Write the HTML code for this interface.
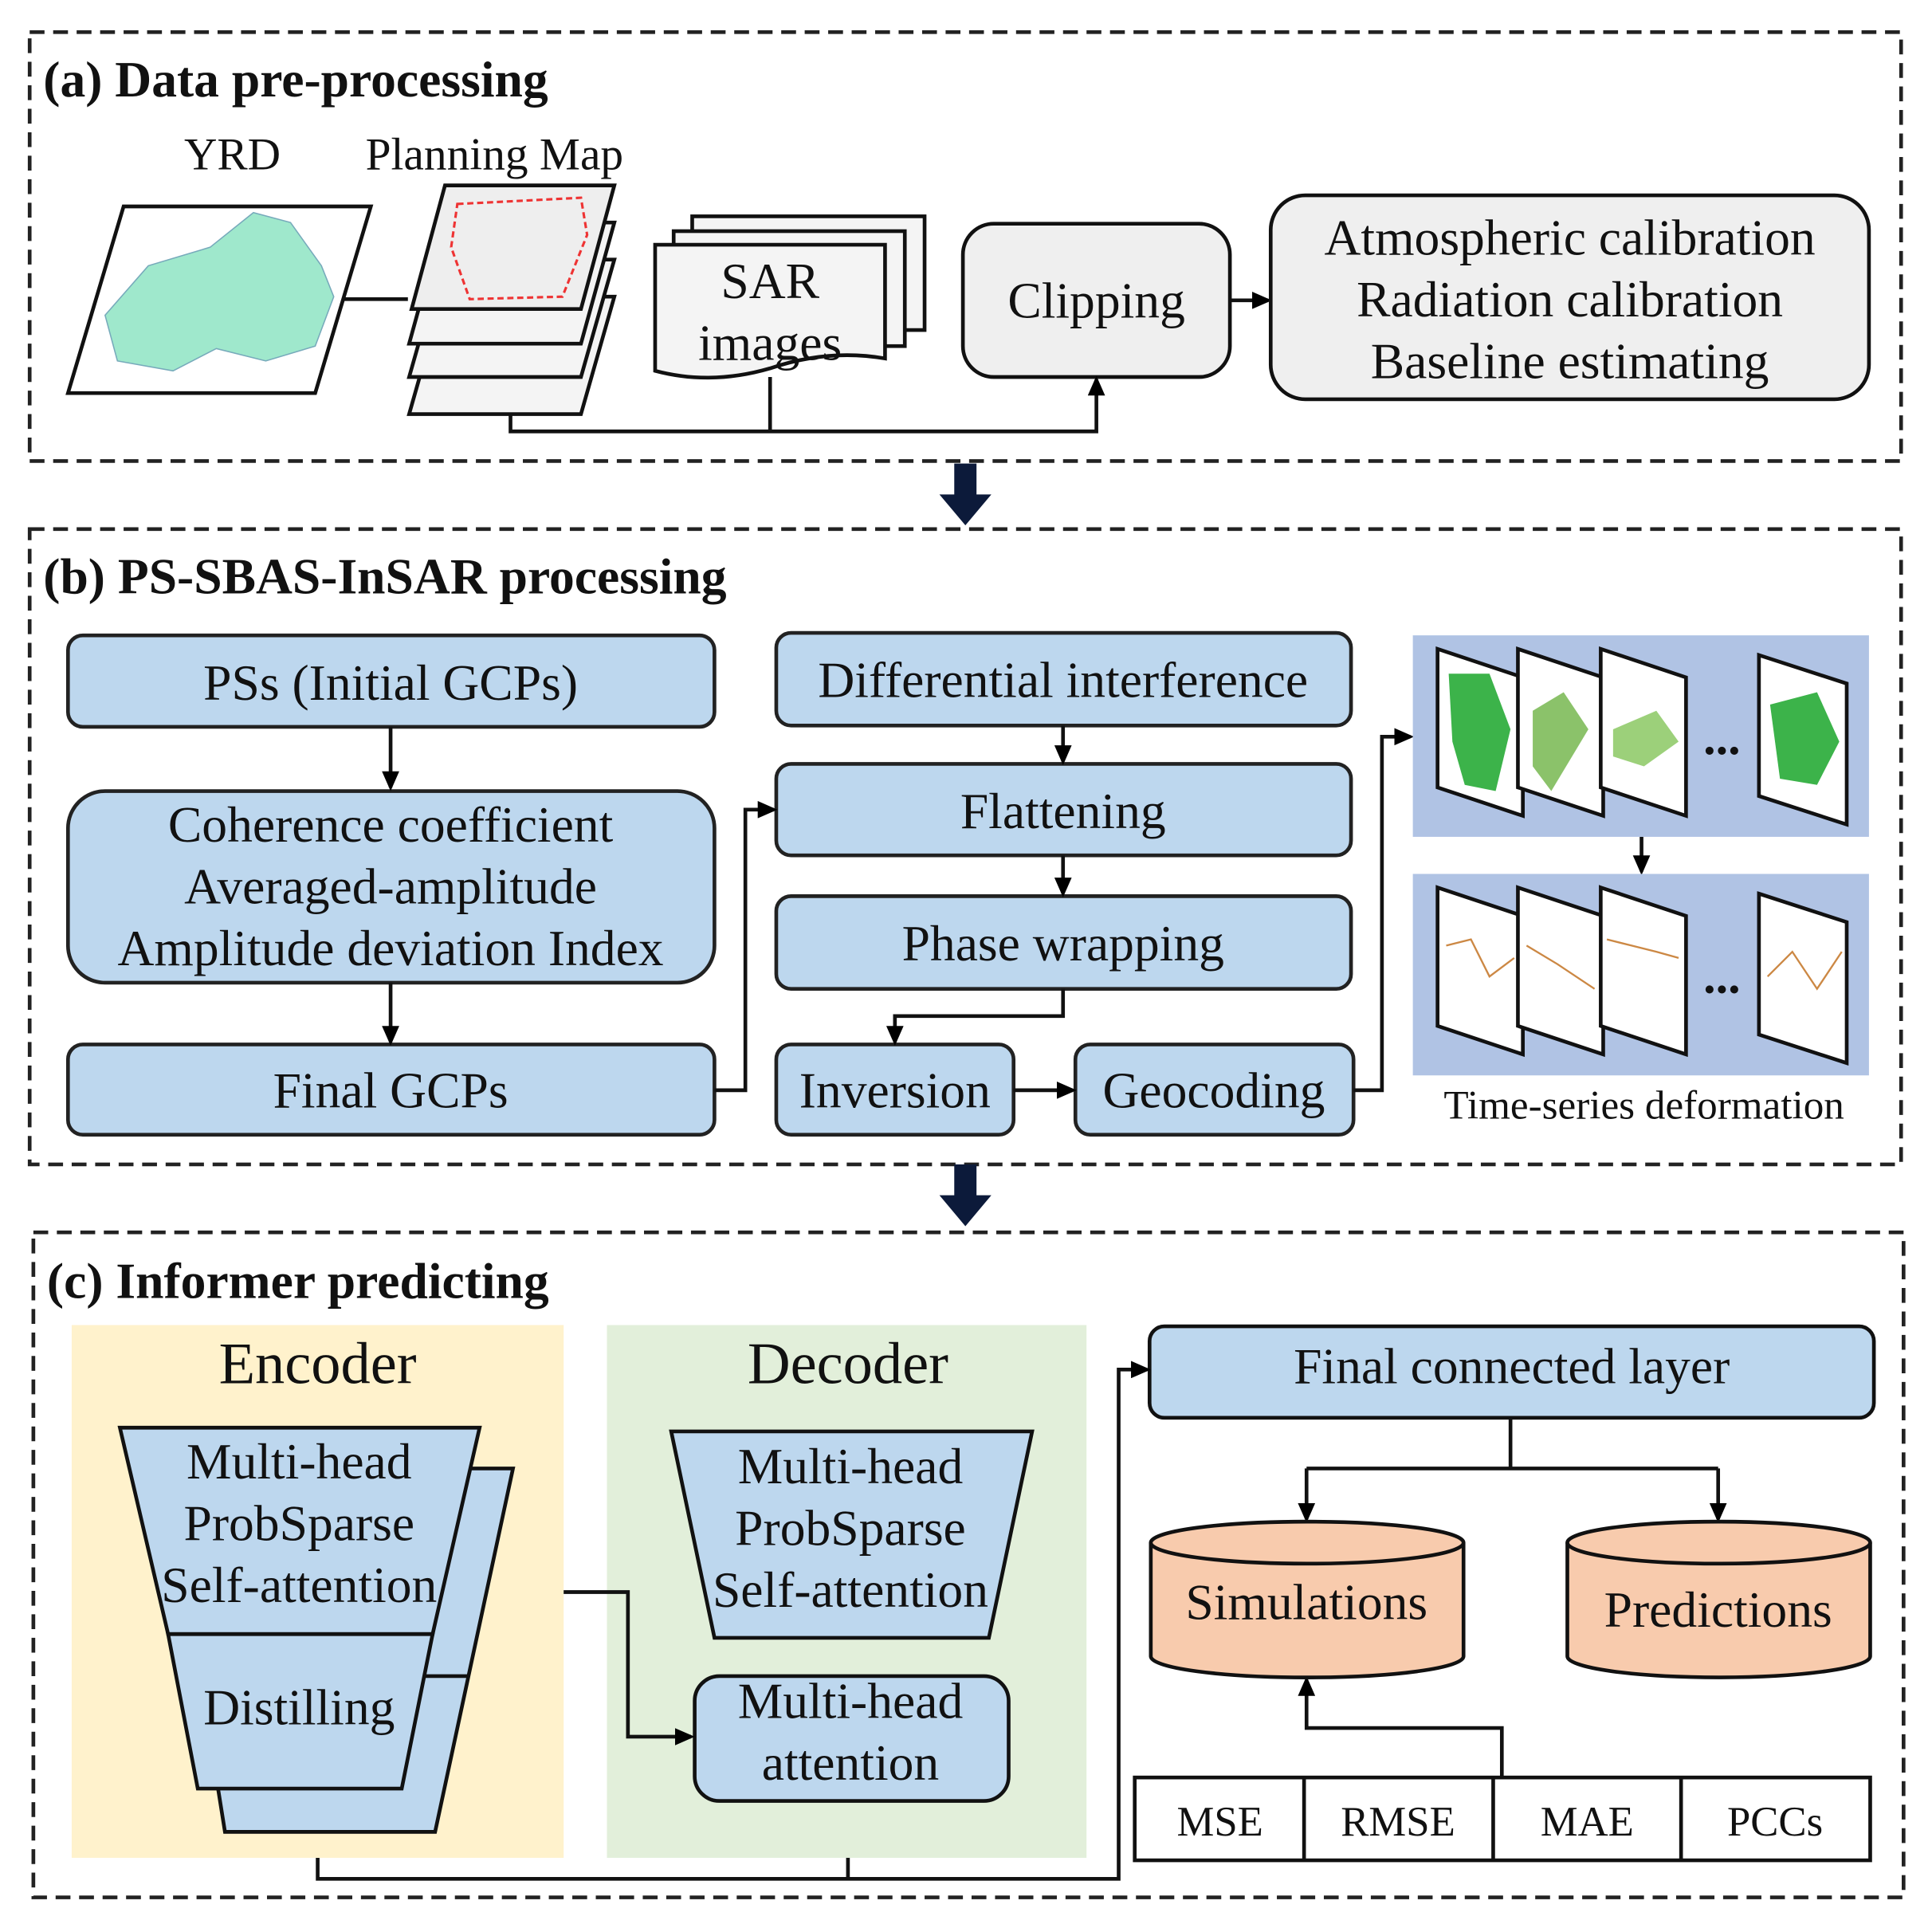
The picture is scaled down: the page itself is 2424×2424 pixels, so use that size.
<!DOCTYPE html>
<html><head><meta charset="utf-8"><style>
html,body{margin:0;padding:0;background:#fff}
svg{display:block}
text{font-family:"Liberation Serif",serif;fill:#111}
</style></head><body>
<svg width="2424" height="2424" viewBox="0 0 1563 1563" xmlns="http://www.w3.org/2000/svg">
<defs>
<marker id="ar" markerWidth="16" markerHeight="14" refX="13" refY="7" orient="auto" markerUnits="userSpaceOnUse" viewBox="0 0 16 14">
<path d="M0,0 L16,7 L0,14 z" fill="#000"/></marker>
</defs>
<rect width="1563" height="1563" fill="#fff"/>
<g fill="none" stroke="#222" stroke-width="3" stroke-dasharray="12,7">
<rect x="24" y="26" width="1514" height="347"/>
<rect x="24" y="428" width="1514" height="514"/>
<rect x="27" y="997" width="1513" height="538"/>
</g>
<g font-weight="bold" font-size="41">
<text x="35" y="78">(a) Data pre-processing</text>
<text x="35" y="480">(b) PS-SBAS-InSAR processing</text>
<text x="38" y="1050">(c) Informer predicting</text>
</g>
<g fill="#0c1a3a">
<rect x="772" y="375" width="18" height="28"/><path d="M760,400 L802,400 L781,425 z"/>
<rect x="772" y="942" width="18" height="28"/><path d="M760,967 L802,967 L781,992 z"/>
</g>
<!-- panel a -->
<text x="188" y="137" font-size="37" text-anchor="middle">YRD</text>
<text x="400" y="137" font-size="37" text-anchor="middle">Planning Map</text>
<polygon points="100,167 300,167 255,318 55,318" fill="#fff" stroke="#111" stroke-width="3"/>
<path d="M85,255 L120,215 L170,200 L205,172 L235,180 L260,215 L270,240 L255,280 L215,292 L175,282 L140,300 L95,292 z" fill="#9fe8cc" stroke="#7ab" stroke-width="1"/>
<line x1="277" y1="242" x2="330" y2="242" stroke="#111" stroke-width="3"/>
<g stroke="#111" stroke-width="3" fill="#f4f4f4">
<polygon points="358,240 497,240 470,335 331,335"/>
<polygon points="358,210 497,210 470,305 331,305"/>
<polygon points="358,180 497,180 470,278 331,278"/>
<polygon points="360,150 497,150 470,250 333,250" fill="#eee"/>
</g>
<path d="M370,165 L470,160 L475,190 L455,240 L380,242 L365,200 z" fill="none" stroke="#e33" stroke-width="2" stroke-dasharray="5,3"/>
<g stroke="#111" stroke-width="3" fill="#f4f4f4">
<rect x="560" y="175" width="188" height="92"/>
<rect x="545" y="187" width="187" height="93"/>
<path d="M530,198 L716,198 L716,290 Q670,282 623,298 Q575,312 530,300 z"/>
</g>
<text x="623" y="241" font-size="41" text-anchor="middle">SAR</text>
<text x="623" y="291" font-size="41" text-anchor="middle">images</text>
<rect x="779" y="181" width="216" height="124" rx="25" fill="#efefef" stroke="#111" stroke-width="3"/>
<text x="887" y="257" font-size="41" text-anchor="middle">Clipping</text>
<line x1="995" y1="243" x2="1026" y2="243" stroke="#111" stroke-width="3" marker-end="url(#ar)"/>
<rect x="1028" y="158" width="484" height="165" rx="28" fill="#efefef" stroke="#111" stroke-width="3"/>
<g font-size="41" text-anchor="middle">
<text x="1270" y="206">Atmospheric calibration</text>
<text x="1270" y="256">Radiation calibration</text>
<text x="1270" y="306">Baseline estimating</text>
</g>
<path d="M413,335 L413,349 L887,349 L887,307" fill="none" stroke="#111" stroke-width="3" marker-end="url(#ar)"/>
<line x1="623" y1="305" x2="623" y2="349" stroke="#111" stroke-width="3"/>
<!-- panel b -->
<g fill="#bdd7ee" stroke="#222" stroke-width="3">
<rect x="55" y="514" width="523" height="74" rx="12"/>
<rect x="55" y="640" width="523" height="155" rx="30"/>
<rect x="55" y="845" width="523" height="73" rx="12"/>
<rect x="628" y="512" width="465" height="75" rx="12"/>
<rect x="628" y="618" width="465" height="74" rx="12"/>
<rect x="628" y="725" width="465" height="75" rx="12"/>
<rect x="628" y="845" width="192" height="73" rx="12"/>
<rect x="870" y="845" width="225" height="73" rx="12"/>
</g>
<g font-size="41" text-anchor="middle">
<text x="316" y="566">PSs (Initial GCPs)</text>
<text x="316" y="681">Coherence coefficient</text>
<text x="316" y="731">Averaged-amplitude</text>
<text x="316" y="781">Amplitude deviation Index</text>
<text x="316" y="896">Final GCPs</text>
<text x="860" y="564">Differential interference</text>
<text x="860" y="670">Flattening</text>
<text x="860" y="777">Phase wrapping</text>
<text x="724" y="896">Inversion</text>
<text x="982" y="896">Geocoding</text>
</g>
<g fill="none" stroke="#111" stroke-width="3" marker-end="url(#ar)">
<line x1="316" y1="588" x2="316" y2="637"/>
<line x1="316" y1="795" x2="316" y2="843"/>
<path d="M578,882 L603,882 L603,655 L626,655"/>
<line x1="860" y1="587" x2="860" y2="616"/>
<line x1="860" y1="692" x2="860" y2="723"/>
<path d="M860,800 L860,822 L724,822 L724,843"/>
<line x1="820" y1="882" x2="868" y2="882"/>
<path d="M1095,882 L1118,882 L1118,596 L1141,596"/>
<line x1="1328" y1="677" x2="1328" y2="705"/>
</g>
<rect x="1143" y="514" width="369" height="163" fill="#b0c3e4"/>
<rect x="1143" y="707" width="369" height="163" fill="#b0c3e4"/>
<g stroke="#111" stroke-width="3" fill="#fff">
<polygon points="1163,525 1232,548 1232,660 1163,637"/>
<polygon points="1228,525 1297,548 1297,660 1228,637"/>
<polygon points="1295,525 1364,548 1364,660 1295,637"/>
<polygon points="1423,530 1494,553 1494,667 1423,644"/>
<polygon points="1163,718 1232,741 1232,853 1163,830"/>
<polygon points="1228,718 1297,741 1297,853 1228,830"/>
<polygon points="1295,718 1364,741 1364,853 1295,830"/>
<polygon points="1423,723 1494,746 1494,860 1423,837"/>
</g>
<g fill="#3cb34a">
<path d="M1172,545 L1205,545 L1222,590 L1210,640 L1185,635 L1175,600 z"/>
<path d="M1240,575 L1265,560 L1285,590 L1255,640 L1240,620 z" fill="#8bc26a"/>
<path d="M1305,590 L1340,575 L1358,600 L1330,620 L1305,612 z" fill="#9cd07a"/>
<path d="M1432,570 L1470,560 L1488,600 L1470,635 L1440,630 z"/>
</g>
<g stroke="#c84" stroke-width="1.5" fill="none">
<path d="M1170,765 L1190,760 L1205,790 L1225,775"/><path d="M1235,765 L1260,780 L1290,800"/>
<path d="M1300,760 L1320,765 L1340,770 L1358,775"/><path d="M1430,790 L1450,770 L1470,800 L1490,770"/>
</g>
<text x="1393" y="610" font-size="40" font-weight="bold" text-anchor="middle">...</text>
<text x="1393" y="803" font-size="40" font-weight="bold" text-anchor="middle">...</text>
<text x="1330" y="905" font-size="33" text-anchor="middle">Time-series deformation</text>
<!-- panel c -->
<rect x="58" y="1072" width="398" height="431" fill="#fff2cc"/>
<rect x="491" y="1072" width="388" height="431" fill="#e2efda"/>
<text x="257" y="1119" font-size="48" text-anchor="middle">Encoder</text>
<text x="686" y="1119" font-size="48" text-anchor="middle">Decoder</text>
<g fill="#bdd7ee" stroke="#111" stroke-width="3">
<polygon points="135,1188 415,1188 352,1482 182,1482"/>
<line x1="340" y1="1356" x2="378" y2="1356"/>
<polygon points="97,1155 388,1155 350,1322 136,1322"/>
<polygon points="136,1322 350,1322 325,1447 160,1447"/>
<polygon points="543,1158 835,1158 800,1325 578,1325"/>
<rect x="562" y="1356" width="254" height="101" rx="20"/>
<rect x="930" y="1073" width="586" height="74" rx="12"/>
</g>
<g font-size="41" text-anchor="middle">
<text x="242" y="1196">Multi-head</text>
<text x="242" y="1246">ProbSparse</text>
<text x="242" y="1296">Self-attention</text>
<text x="242" y="1395">Distilling</text>
<text x="688" y="1200">Multi-head</text>
<text x="688" y="1250">ProbSparse</text>
<text x="688" y="1300">Self-attention</text>
<text x="688" y="1390">Multi-head</text>
<text x="688" y="1440">attention</text>
<text x="1223" y="1119">Final connected layer</text>
</g>
<g fill="none" stroke="#111" stroke-width="3">
<path d="M456,1288 L508,1288 L508,1405 L559,1405" marker-end="url(#ar)"/>
<path d="M257,1503 L257,1520 L905,1520 L905,1108 L928,1108" marker-end="url(#ar)"/>
<line x1="686" y1="1503" x2="686" y2="1520"/>
<path d="M1222,1147 L1222,1188 M1057,1188 L1390,1188"/>
<line x1="1057" y1="1188" x2="1057" y2="1229" marker-end="url(#ar)"/>
<line x1="1390" y1="1188" x2="1390" y2="1229" marker-end="url(#ar)"/>
<path d="M1215,1438 L1215,1398 L1057,1398 L1057,1359" marker-end="url(#ar)"/>
</g>
<g fill="#f8cbad" stroke="#111" stroke-width="3">
<path d="M931,1248 L931,1340 A126,17 0 0 0 1184,1340 L1184,1248"/>
<ellipse cx="1057.5" cy="1248" rx="126.5" ry="17"/>
<path d="M1268,1248 L1268,1340 A122.5,17 0 0 0 1513,1340 L1513,1248"/>
<ellipse cx="1390.5" cy="1248" rx="122.5" ry="17"/>
</g>
<text x="1057" y="1310" font-size="41" text-anchor="middle">Simulations</text>
<text x="1390" y="1316" font-size="41" text-anchor="middle">Predictions</text>
<g fill="#fff" stroke="#111" stroke-width="3">
<rect x="918" y="1438" width="595" height="67"/>
<line x1="1055" y1="1438" x2="1055" y2="1505"/>
<line x1="1208" y1="1438" x2="1208" y2="1505"/>
<line x1="1360" y1="1438" x2="1360" y2="1505"/>
</g>
<g font-size="34" text-anchor="middle">
<text x="987" y="1485">MSE</text>
<text x="1131" y="1485">RMSE</text>
<text x="1284" y="1485">MAE</text>
<text x="1436" y="1485">PCCs</text>
</g>
</svg>
</body></html>
